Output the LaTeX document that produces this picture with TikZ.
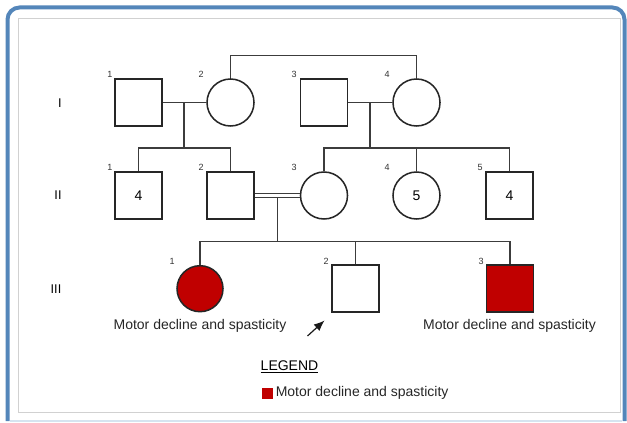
\documentclass[tikz,border=0pt]{standalone}
\usepackage{fontspec}
\setmainfont{Liberation Sans}
\usetikzlibrary{arrows.meta}
\definecolor{frameblue}{RGB}{84,134,186}
\definecolor{framelight}{RGB}{214,228,240}
\definecolor{affected}{RGB}{192,0,0}
\definecolor{linegray}{RGB}{60,60,60}
\tikzset{
  person/.style={draw=black!85, line width=1.15pt, minimum size=35.25pt, inner sep=0pt, font=\fontsize{10.5}{12}\selectfont},
  sq/.style={person, rectangle},
  cir/.style={person, circle},
  aff/.style={fill=affected},
  conn/.style={draw=linegray, line width=0.85pt},
  idx/.style={font=\fontsize{6.75}{8}\selectfont, text=black!80, inner sep=0pt},
  gen/.style={font=\fontsize{9.5}{11}\selectfont, inner sep=0pt},
  note/.style={font=\fontsize{10.5}{12}\selectfont, text=black!85, inner sep=0pt},
}
\begin{document}
\begin{tikzpicture}[x=0.75pt, y=-0.75pt]
\useasboundingbox (0,0) rectangle (627,423);
% frame
\draw[framelight, line width=1.5pt] (10,421) -- (622,421);
\draw[frameblue, line width=3pt, rounded corners=9pt] (7.5,421) -- (7.5,7.5) -- (624.5,7.5) -- (624.5,421);
\draw[black!18, line width=0.6pt] (18,18) rectangle (620,412);

% generation labels
\node[gen] (gI) at (60,103) {I};
\node[gen] (gII) at (58,195.5) {II};
\node[gen] (gIII) at (56,289) {III};

% generation I
\node[sq] (I1) at (138.5,102.5) {};
\node[cir] (I2) at (230.5,102.5) {};
\node[sq] (I3) at (324,102.5) {};
\node[cir] (I4) at (416.5,102.5) {};
\node[idx] (nI1) at (110,74) {1};
\node[idx] (nI2) at (201,74) {2};
\node[idx] (nI3) at (294,74) {3};
\node[idx] (nI4) at (387,74) {4};

% generation II
\node[sq] (II1) at (138.5,195.5) {4};
\node[sq] (II2) at (230.5,195.5) {};
\node[cir] (II3) at (324,195.5) {};
\node[cir] (II4) at (416.5,195.5) {5};
\node[sq] (II5) at (509.5,195.5) {4};
\node[idx] (nII1) at (110,167) {1};
\node[idx] (nII2) at (201,167) {2};
\node[idx] (nII3) at (294,167) {3};
\node[idx] (nII4) at (387,167) {4};
\node[idx] (nII5) at (480,167) {5};

% generation III
\node[cir, aff, minimum size=34.5pt] (III1) at (200,288.7) {};
\node[sq] (III2) at (355.3,288.5) {};
\node[sq, aff] (III3) at (510,288.5) {};
\node[idx] (nIII1) at (172,261) {1};
\node[idx] (nIII2) at (326,261) {2};
\node[idx] (nIII3) at (481,261) {3};

\node[note] (t1) at (200,326) {Motor decline and spasticity};
\node[note] (t3) at (509.5,326) {Motor decline and spasticity};

% connectors generation I
\draw[conn] (I2.north) -- ++(0,-23) coordinate (top) -| (I4.north);
\draw[conn] (I1.east) -- (I2.west);
\draw[conn] (I3.east) -- (I4.west);
\coordinate (m1) at (184,102.5);
\coordinate (s1) at (184,148);
\coordinate (m2) at (370,102.5);
\coordinate (s2) at (370,148);
\draw[conn] (m1) -- (s1);
\draw[conn] (II1.north) |- (s1) -| (II2.north);
\draw[conn] (m2) -- (s2);
\draw[conn] (II3.north) |- (s2) -| (II5.north);
\draw[conn] (II4.north) -- (II4.north |- s2);

% consanguineous union
\draw[conn] ([yshift=1.5pt]II2.east) -- ([yshift=1.5pt]II3.west);
\draw[conn] ([yshift=-1.5pt]II2.east) -- ([yshift=-1.5pt]II3.west);
\coordinate (m3) at (277.5,197.5);
\coordinate (s3) at (277.5,241.7);
\draw[conn] (m3) -- (s3);
\draw[conn] (III1.north) |- (s3) -| (III3.north);
\draw[conn] (III2.north) -- (III2.north |- s3);

% proband arrow
\coordinate (a1) at (307.5,336);
\coordinate (a2) at (324.5,320.5);
\draw[black!90, line width=0.9pt, -{Latex[length=8pt,width=6.5pt]}] (a1) -- (a2);

% legend
\node[note, text=black] (leg) at (289.5,367) {\underline{LEGEND}};
\node[fill=affected, minimum size=8.25pt, inner sep=0pt] (legbox) at (267.5,393) {};
\node[note, anchor=west] (legtxt) at (275.5,393) {Motor decline and spasticity};
\end{tikzpicture}
\end{document}
